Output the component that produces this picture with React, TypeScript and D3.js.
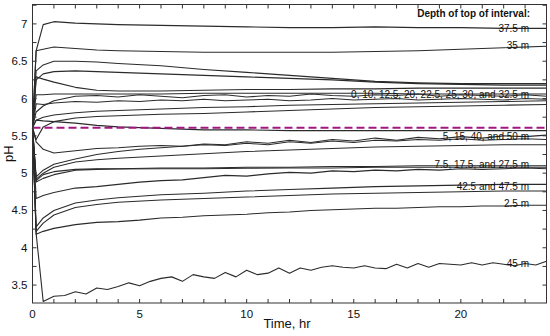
import React from "react";
import * as d3 from "d3";

// ---- time bases (hr) ----
const timesCoarse = [0, 0.17, 0.5, 1, 2, 3, 4, 6, 8, 10, 12, 14, 16, 18, 20, 22, 24];
const timesHourly = [0, 0.17, 0.5, 1, 2, 3, 4, 5, 6, 7, 8, 9, 10, 11, 12, 13, 14, 15, 16, 17, 18, 19, 20, 21, 22, 23, 24];
const timesHalf = [0, 0.17, 0.5, 1, 1.5, 2, 2.5, 3, 3.5, 4, 4.5, 5, 5.5, 6, 6.5, 7, 7.5, 8, 8.5, 9, 9.5, 10, 10.5, 11, 11.5, 12, 12.5, 13, 13.5, 14, 14.5, 15, 15.5, 16, 16.5, 17, 17.5, 18, 18.5, 19, 19.5, 20, 20.5, 21, 21.5, 22, 22.5, 23, 23.5, 24];

// ---- pH series by depth of top of interval (m) ----
const ph37_5 = [5.61, 6.64, 6.99, 7.03, 7.01, 7.0, 6.99, 6.98, 6.97, 6.96, 6.95, 6.95, 6.96, 6.95, 6.95, 6.94, 6.94];
const ph35 = [5.61, 6.64, 6.66, 6.69, 6.67, 6.65, 6.64, 6.63, 6.62, 6.62, 6.62, 6.62, 6.63, 6.64, 6.66, 6.68, 6.7];
const ph0 = [5.61, 6.37, 6.45, 6.5, 6.5, 6.49, 6.47, 6.44, 6.39, 6.35, 6.31, 6.27, 6.23, 6.21, 6.2, 6.2, 6.2];
const ph10 = [5.61, 6.25, 6.33, 6.36, 6.37, 6.36, 6.35, 6.33, 6.31, 6.29, 6.27, 6.25, 6.22, 6.2, 6.19, 6.18, 6.18];
const ph12_5 = [5.61, 6.29, 6.26, 6.22, 6.15, 6.11, 6.1, 6.1, 6.11, 6.12, 6.12, 6.13, 6.13, 6.14, 6.14, 6.14, 6.14];
const ph20 = [5.61, 6.05, 6.05, 6.06, 6.06, 6.06, 6.06, 6.06, 6.07, 6.07, 6.07, 6.07, 6.07, 6.06, 6.06, 6.06, 6.06];
const ph22_5 = [5.61, 5.82, 5.9, 5.97, 6.03, 6.04, 6.02, 6.05, 6.03, 6.01, 6.04, 6.05, 6.02, 6.04, 6.03, 6.06, 6.04, 6.03, 6.05, 6.04, 6.06, 6.03, 6.05, 6.04, 6.03, 6.05, 6.03];
const ph25 = [5.61, 5.93, 5.92, 5.94, 5.96, 5.95, 5.97, 5.96, 5.98, 5.97, 5.99, 5.97, 5.98, 5.99, 5.97, 5.98, 6.0, 5.98, 5.99, 6.0, 5.98, 5.99, 6.0, 5.99, 5.98, 6.0, 5.99];
const ph30 = [5.61, 5.71, 5.75, 5.78, 5.81, 5.83, 5.84, 5.86, 5.88, 5.89, 5.91, 5.92, 5.93, 5.94, 5.95, 5.96, 5.97];
const ph32_5 = [5.61, 5.45, 5.62, 5.69, 5.74, 5.76, 5.77, 5.79, 5.8, 5.82, 5.84, 5.86, 5.88, 5.89, 5.9, 5.91, 5.92];
const ph5 = [5.61, 5.71, 5.7, 5.69, 5.67, 5.64, 5.62, 5.6, 5.58, 5.58, 5.57, 5.57, 5.57, 5.57, 5.57, 5.57, 5.57];
const ph15 = [5.61, 5.42, 5.32, 5.27, 5.3, 5.33, 5.34, 5.36, 5.37, 5.36, 5.39, 5.38, 5.42, 5.4, 5.44, 5.41, 5.45, 5.43, 5.47, 5.44, 5.48, 5.46, 5.49, 5.47, 5.5, 5.49, 5.51];
const ph40 = [5.61, 4.95, 5.04, 5.12, 5.19, 5.25, 5.29, 5.32, 5.34, 5.36, 5.38, 5.37, 5.4, 5.38, 5.42, 5.4, 5.43, 5.41, 5.44, 5.43, 5.45, 5.44, 5.46, 5.44, 5.45, 5.46, 5.45];
const ph50 = [5.61, 4.92, 5.0, 5.08, 5.15, 5.18, 5.2, 5.23, 5.26, 5.29, 5.31, 5.33, 5.35, 5.36, 5.37, 5.38, 5.38];
const ph7_5 = [5.61, 4.9, 4.98, 5.02, 5.05, 5.06, 5.06, 5.07, 5.07, 5.08, 5.08, 5.09, 5.09, 5.1, 5.1, 5.1, 5.1];
const ph17_5 = [5.61, 4.88, 4.93, 4.98, 5.04, 5.05, 5.055, 5.06, 5.06, 5.065, 5.07, 5.07, 5.08, 5.08, 5.08, 5.08, 5.08];
const ph27_5 = [5.61, 4.66, 4.7, 4.74, 4.8, 4.82, 4.85, 4.88, 4.9, 4.91, 4.94, 4.97, 4.96, 4.99, 5.01, 5.0, 5.03, 5.02, 5.04, 5.03, 5.05, 5.04, 5.06, 5.05, 5.06, 5.07, 5.06];
const ph42_5 = [5.61, 4.28, 4.4, 4.5, 4.6, 4.64, 4.67, 4.71, 4.73, 4.76, 4.78, 4.8, 4.82, 4.83, 4.84, 4.85, 4.85];
const ph47_5 = [5.61, 4.22, 4.33, 4.44, 4.54, 4.58, 4.61, 4.64, 4.66, 4.68, 4.7, 4.72, 4.73, 4.74, 4.75, 4.76, 4.76];
const ph2_5 = [5.61, 4.18, 4.22, 4.26, 4.31, 4.34, 4.35, 4.37, 4.4, 4.41, 4.43, 4.44, 4.45, 4.47, 4.48, 4.5, 4.51, 4.52, 4.53, 4.53, 4.54, 4.55, 4.55, 4.56, 4.56, 4.57, 4.57];
const ph45 = [5.61, 4.19, 3.28, 3.35, 3.36, 3.41, 3.38, 3.46, 3.44, 3.48, 3.53, 3.49, 3.55, 3.59, 3.61, 3.55, 3.64, 3.61, 3.59, 3.67, 3.61, 3.7, 3.64, 3.66, 3.73, 3.66, 3.73, 3.7, 3.74, 3.76, 3.74, 3.73, 3.76, 3.73, 3.72, 3.78, 3.73, 3.79, 3.74, 3.79, 3.78, 3.77, 3.8, 3.77, 3.8, 3.78, 3.76, 3.79, 3.77, 3.82];

const initialPH = 5.61;

const yTickValues = [3.5, 4, 4.5, 5, 5.5, 6, 6.5, 7];
const xTickValues = [0, 5, 10, 15, 20];

const depthLabels = [
  { text: "37.5 m", ph: 6.94 },
  { text: "35 m", ph: 6.705 },
  { text: "0, 10, 12.5, 20, 22.5, 25, 30, and 32.5  m", ph: 6.05 },
  { text: "5, 15, 40, and 50 m", ph: 5.49 },
  { text: "7.5, 17.5, and 27.5 m", ph: 5.115 },
  { text: "42.5 and 47.5 m", ph: 4.815 },
  { text: "2.5 m", ph: 4.59 },
  { text: "45 m", ph: 3.785 },
];

const seriesList = [
  { t: timesCoarse, v: ph37_5 },
  { t: timesCoarse, v: ph35 },
  { t: timesCoarse, v: ph0 },
  { t: timesCoarse, v: ph10 },
  { t: timesCoarse, v: ph12_5 },
  { t: timesCoarse, v: ph20 },
  { t: timesHourly, v: ph22_5 },
  { t: timesHourly, v: ph25 },
  { t: timesCoarse, v: ph30 },
  { t: timesCoarse, v: ph32_5 },
  { t: timesCoarse, v: ph5 },
  { t: timesHourly, v: ph15 },
  { t: timesHourly, v: ph40 },
  { t: timesCoarse, v: ph50 },
  { t: timesCoarse, v: ph7_5 },
  { t: timesCoarse, v: ph17_5 },
  { t: timesHourly, v: ph27_5 },
  { t: timesCoarse, v: ph42_5 },
  { t: timesCoarse, v: ph47_5 },
  { t: timesHourly, v: ph2_5 },
  { t: timesHalf, v: ph45 },
];

const W = 550;
const H = 336;
const L = 32.5;
const R = 546.5;
const T = 4.5;
const B = 303;
const FONT = "'Liberation Sans', Arial, Helvetica, sans-serif";

export default function App() {
  const x = d3.scaleLinear().domain([0, 24]).range([L, R]);
  const y = d3.scaleLinear().domain([3.26, 7.26]).range([B, T]);
  const line = d3
    .line<[number, number]>()
    .x((d) => x(d[0]))
    .y((d) => y(d[1]));

  const fmt = d3.format("~g");
  const xMinor = d3.range(0, 25, 1);
  const yMinor = d3.range(3.5, 7.26, 0.25);
  const tick = 4;

  return (
    <svg
      width={W}
      height={H}
      style={{ position: "absolute", left: 0, top: 0, background: "#fff" }}
      fontFamily={FONT}
    >
      <rect x={0} y={0} width={W} height={H} fill="#fff" />
      {/* series */}
      <g fill="none" stroke="#2b2b2b" strokeWidth={1.1} strokeLinejoin="round">
        {seriesList.map((s, i) => {
          const n = Math.min(s.t.length, s.v.length);
          const pts: [number, number][] = [];
          for (let k = 0; k < n; k++) pts.push([s.t[k], s.v[k]]);
          return <path key={i} d={line(pts) || ""} />;
        })}
      </g>
      {/* initial pH dashed */}
      <line
        x1={x(0)}
        x2={x(24)}
        y1={y(initialPH)}
        y2={y(initialPH)}
        stroke="#a0177f"
        strokeWidth={2}
        strokeDasharray="8,4"
      />
      {/* frame */}
      <rect x={L} y={T} width={R - L} height={B - T} fill="none" stroke="#333" strokeWidth={1} />
      {/* ticks */}
      <g stroke="#333" strokeWidth={1}>
        {xMinor.map((v) => (
          <g key={"xt" + v}>
            <line x1={x(v)} x2={x(v)} y1={B} y2={B - tick} />
            <line x1={x(v)} x2={x(v)} y1={T} y2={T + tick} />
          </g>
        ))}
        {yMinor.map((v) => (
          <g key={"yt" + v}>
            <line x1={L} x2={L + tick} y1={y(v)} y2={y(v)} />
            <line x1={R} x2={R - tick} y1={y(v)} y2={y(v)} />
          </g>
        ))}
      </g>
      {/* tick labels */}
      <g fontSize={11.5} fill="#111">
        {yTickValues.map((v) => (
          <text key={"yl" + v} x={L - 5} y={y(v)} textAnchor="end" dominantBaseline="central">
            {fmt(v)}
          </text>
        ))}
        {xTickValues.map((v) => (
          <text key={"xl" + v} x={x(v)} y={318} textAnchor="middle">
            {fmt(v)}
          </text>
        ))}
      </g>
      <text x={287} y={328} textAnchor="middle" fontSize={13} fill="#111">
        Time, hr
      </text>
      <text
        transform={`translate(13,${(T + B) / 2}) rotate(-90)`}
        textAnchor="middle"
        fontSize={13}
        fill="#111"
      >
        pH
      </text>
      {/* legend labels */}
      <text x={530} y={17} textAnchor="end" fontSize={10} fontWeight="bold" fill="#111">
        Depth of top of interval:
      </text>
      <g fontSize={10} fill="#111">
        {depthLabels.map((d) => (
          <text key={d.text} x={529} y={y(d.ph)} textAnchor="end" dominantBaseline="central">
            {d.text}
          </text>
        ))}
      </g>
    </svg>
  );
}
